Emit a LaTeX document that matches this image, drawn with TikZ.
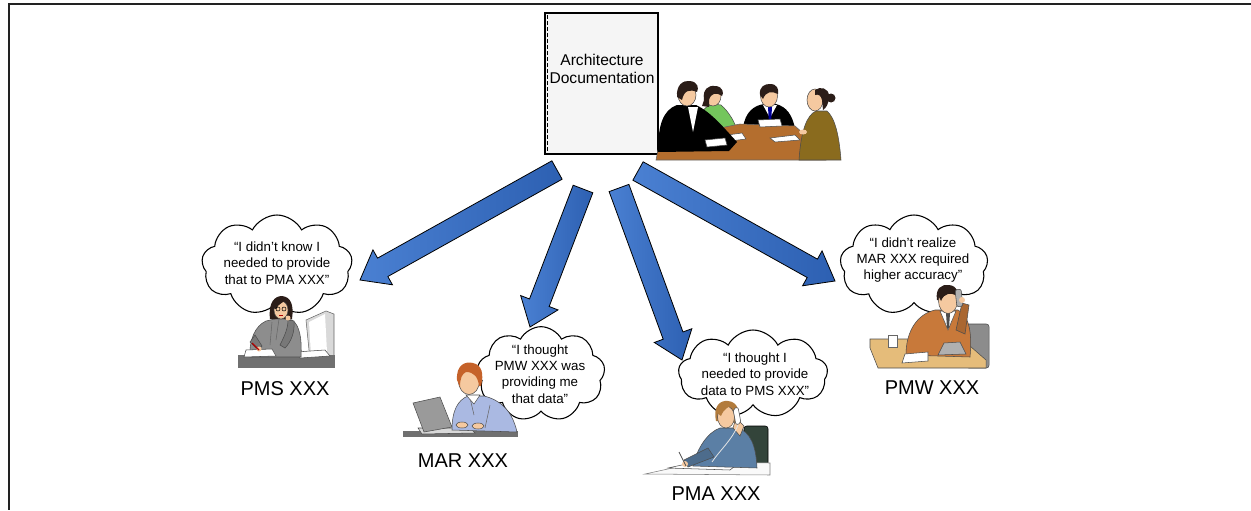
\documentclass[tikz,border=0pt]{standalone}
\usepackage{fontspec}
\setmainfont{Liberation Sans}
\usetikzlibrary{calc,shapes.symbols}

\definecolor{framecol}{HTML}{222222}
\definecolor{docfill}{HTML}{F5F5F5}
\definecolor{arrowA}{HTML}{4A80D2}
\definecolor{arrowB}{HTML}{2D60B2}
\definecolor{skin}{HTML}{F5C9A0}
\definecolor{hairdark}{HTML}{2B1D18}
\definecolor{jacketgray}{HTML}{8D8D8D}
\definecolor{deskgray}{HTML}{707070}
\definecolor{lightgrey}{HTML}{D9D9D9}
\definecolor{laptopgray}{HTML}{9A9A9A}
\definecolor{shirtblue}{HTML}{AAB9E2}
\definecolor{hairorange}{HTML}{C5622A}
\definecolor{chairgreen}{HTML}{33443A}
\definecolor{jacketblue}{HTML}{5B7FA5}
\definecolor{hairbrown}{HTML}{B27B3C}
\definecolor{chairgray}{HTML}{8C8C8C}
\definecolor{desktan}{HTML}{E5BC7A}
\definecolor{sweater}{HTML}{C8793A}
\definecolor{phonegray}{HTML}{B0B0B0}
\definecolor{shirtgreen}{HTML}{74C65C}
\definecolor{olive}{HTML}{8A6B1E}
\definecolor{tablebrown}{HTML}{B46E2E}

\tikzset{
  docbox/.style={draw=black, line width=0.8pt, fill=docfill, minimum width=84.75pt,
    minimum height=105.75pt, inner sep=0pt},
  doctext/.style={align=center, font=\fontsize{11.7}{13.2}\selectfont, inner sep=0pt},
  thought/.style={cloud, cloud puffs=9, cloud puff arc=125, aspect=1.5, draw=black,
    line width=0.8pt, fill=white, inner sep=0pt},
  thoughttext/.style={align=center, font=\fontsize{10}{12.2}\selectfont, inner sep=0pt},
  rolelabel/.style={font=\fontsize{15}{18}\selectfont, inner sep=0pt},
  blockarrow/.style={draw=black, line width=0.6pt, left color=arrowA, right color=arrowB},
  outline/.style={draw=black!70, line width=0.4pt},
}

% block arrow from a tail coordinate (#1) to a tip coordinate (#2)
\newcommand\drawblockarrow[2]{%
  \coordinate (neck) at ($(#2)!19.5pt!(#1)$);
  \path[blockarrow] ($(#1)!7.9pt!90:(#2)$) -- ($(neck)!7.9pt!90:(#2)$)
    -- ($(neck)!15pt!90:(#2)$) -- (#2) -- ($(neck)!15pt!-90:(#2)$)
    -- ($(neck)!7.9pt!-90:(#2)$) -- ($(#1)!7.9pt!-90:(#2)$) -- cycle;
}

\begin{document}
\begin{tikzpicture}[x=0.75pt,y=-0.75pt]
\useasboundingbox (0,0) rectangle (1251,510);

% open frame: top and left edges
\draw[framecol, line width=1.5pt] (1251,4) -- (9,4) -- (9,510);

% architecture document
\node[docbox] (doc) at (601.5,83.5) {};
\draw[line width=0.6pt, dash pattern=on 3pt off 1.5pt]
  ([xshift=2.5pt,yshift=-2pt]doc.north west) -- ([xshift=2.5pt,yshift=2pt]doc.south west);
\node[doctext] (doctitle) at (602,69) {Architecture\\Documentation};

% meeting group beside the document
\begin{scope}
  % woman in green (behind table)
  \filldraw[fill=shirtgreen, outline] (695,137) .. controls (696,118) and (702,107) .. (713,104)
    -- (721,105) .. controls (729,112) and (735,122) .. (738,133) -- cycle;
  \filldraw[fill=skin, outline] (713,96) ellipse [x radius=8, y radius=10];
  \fill[hairdark] (704,100) .. controls (702,88) and (710,85) .. (716,86)
    .. controls (723,87) and (724,93) .. (722,96) .. controls (716,92) and (711,93) .. (709,100)
    -- (709,107) -- (702,106) -- cycle;
  % man in the middle (behind table)
  \fill[black] (743,128) .. controls (745,112) and (754,105) .. (765,104) -- (776,104)
    .. controls (787,107) and (792,115) .. (795,128) -- cycle;
  \fill[white] (763,105) -- (777,105) -- (770,118) -- cycle;
  \fill[blue!60!black] (768,107) -- (772,107) -- (771,124) -- (769,124) -- cycle;
  \filldraw[fill=skin, outline] (769,96) ellipse [x radius=8.5, y radius=11];
  \fill[hairdark] (760,95) .. controls (759,86) and (765,84) .. (770,84)
    .. controls (777,84) and (779,89) .. (778,94) .. controls (772,91) and (766,91) .. (763,99) -- cycle;
  % table
  \filldraw[fill=tablebrown, draw=black!60, line width=0.4pt] (656,160) -- (658,150) -- (700,132)
    -- (740,124) -- (795,126) -- (822,150) -- (826,160) -- cycle;
  % papers
  \fill[white, outline] (720,136) -- (742,133) -- (746,139) -- (722,142) -- cycle;
  \fill[white, outline] (758,120) -- (780,119) -- (782,126) -- (760,127) -- cycle;
  \fill[white, outline] (770,138) -- (795,135) -- (800,140) -- (775,142) -- cycle;
  % man in front at left
  \fill[black] (658,152) .. controls (658,125) and (663,110) .. (677,105) -- (696,105)
    .. controls (711,112) and (724,128) .. (737,142) -- (729,151) -- cycle;
  \fill[white] (688,107) -- (698,107) -- (693,132) -- cycle;
  \fill[white, outline] (705,140) -- (725,138) -- (727,145) -- (707,147) -- cycle;
  \filldraw[fill=skin, outline] (687,95) ellipse [x radius=9, y radius=11];
  \fill[hairdark] (677,97) .. controls (676,85) and (683,80) .. (690,81)
    .. controls (698,82) and (699,88) .. (697,92) .. controls (690,89) and (684,90) .. (682,100) -- cycle;
  % woman in front at right
  \filldraw[fill=olive, outline] (799,160) .. controls (801,130) and (807,115) .. (816,111)
    -- (827,111) .. controls (835,118) and (839,135) .. (841,160) -- cycle;
  \filldraw[fill=skin, outline] (815,100) ellipse [x radius=8, y radius=11];
  \fill[hairdark] (815,90) .. controls (820,86) and (829,88) .. (829,96)
    .. controls (829,104) and (826,108) .. (823,110) -- (822,100) .. controls (821,95) and (818,94) .. (815,95) -- cycle;
  \fill[hairdark] (831,98) circle [radius=4.5];
  \fill[skin] (803,132) ellipse [x radius=4, y radius=2.5];
\end{scope}

% thought clouds
\node[thought, minimum width=113pt, minimum height=75pt] (c1) at (277,265) {};
\node[thought, minimum width=96pt, minimum height=71pt] (c2) at (541,374) {};
\node[thought, minimum width=112pt, minimum height=66pt] (c3) at (753,374) {};
\node[thought, minimum width=111pt, minimum height=75pt] (c4) at (914,265) {};

\node[thoughttext] (t1) at (277,263) {“I didn’t know I\\needed to provide\\that to PMA XXX”};
\node[thoughttext] (t2) at (540,374) {“I thought\\PMW XXX was\\providing me\\that data”};
\node[thoughttext] (t3) at (755,374) {“I thought I\\needed to provide\\data to PMS XXX"};
\node[thoughttext] (t4) at (913,260) {“I didn’t realize\\MAR XXX required\\higher accuracy”};

% arrows from the document to each team
\coordinate (ta1) at (557,170); \coordinate (tp1) at (360,280);
\coordinate (ta2) at (583,189); \coordinate (tp2) at (530,327);
\coordinate (ta3) at (619,188); \coordinate (tp3) at (682,360);
\coordinate (ta4) at (638,171); \coordinate (tp4) at (835,281);
\drawblockarrow{ta1}{tp1}
\drawblockarrow{ta2}{tp2}
\drawblockarrow{ta3}{tp3}
\drawblockarrow{ta4}{tp4}

% PMS: woman at a desk with monitor
\begin{scope}
  \filldraw[fill=lightgrey, draw=black!60, line width=0.4pt] (306,320) -- (326,311) -- (334,314)
    -- (334,357) -- (310,360) -- cycle;
  \fill[white] (309,322) -- (325,314) -- (327,352) -- (311,355) -- cycle;
  \fill[deskgray] (238,355) rectangle (335,368);
  \fill[white, outline] (296,352) -- (325,350) -- (330,356) -- (300,358) -- cycle;
  \filldraw[fill=jacketgray, outline] (250,357) .. controls (249,340) and (255,326) .. (266,321)
    -- (279,318) -- (292,320) .. controls (300,325) and (302,340) .. (301,357) -- cycle;
  \draw[black!60, line width=0.4pt] (279,319) -- (276,340) (272,322) -- (270,345);
  \filldraw[fill=jacketgray!85!black, outline] (280,345) .. controls (285,335) and (288,328) .. (288,320)
    -- (294,321) .. controls (295,332) and (291,342) .. (285,348) -- cycle;
  \fill[hairdark] (270,319) .. controls (268,302) and (275,296) .. (282,296)
    .. controls (291,297) and (294,305) .. (292,319) -- cycle;
  \filldraw[fill=skin, outline] (281,310) ellipse [x radius=7, y radius=9];
  \fill[hairdark] (273,308) .. controls (273,300) and (280,297) .. (287,299)
    .. controls (283,303) and (279,303) .. (276,309) -- cycle;
  \draw[black, line width=0.4pt] (278,309) circle [radius=2] (284,309) circle [radius=2];
  \fill[red!70!black] (279,315) rectangle (283,316);
  \fill[skin] (288,318) circle [radius=2.5];
  \fill[white, outline] (246,350) -- (272,349) -- (276,356) -- (244,357) -- cycle;
  \filldraw[fill=jacketgray!85!black, outline] (255,335) -- (262,346) -- (258,350) -- (250,342) -- cycle;
  \fill[skin] (259,349) circle [radius=2.5];
  \draw[red!70!black, line width=0.8pt] (252,343) -- (259,350);
\end{scope}

% MAR: man at a laptop
\begin{scope}
  \fill[deskgray] (403,431) rectangle (518,437);
  \filldraw[fill=lightgrey, outline] (418,428) -- (470,428) -- (475,433) -- (422,434) -- cycle;
  \filldraw[fill=laptopgray, outline] (413,403) -- (440,397) -- (452,427) -- (424,432) -- cycle;
  \filldraw[fill=shirtblue, outline] (452,430) .. controls (452,410) and (458,400) .. (468,396)
    -- (484,396) .. controls (500,400) and (512,410) .. (517,432) -- cycle;
  \draw[black!60, line width=0.4pt] (470,398) -- (474,415) (490,405) -- (485,428);
  \fill[white, outline] (466,395) -- (474,404) -- (480,395) -- cycle;
  \fill[skin, outline] (462,425) ellipse [x radius=6, y radius=3];
  \fill[skin, outline] (478,426) ellipse [x radius=6, y radius=3];
  \filldraw[fill=skin, outline] (469,381) ellipse [x radius=10.5, y radius=13.5];
  \fill[hairorange] (457,380) .. controls (456,365) and (465,361) .. (473,363)
    .. controls (482,365) and (484,374) .. (481,386) -- (479,386) .. controls (478,377) and (474,372) .. (466,372)
    .. controls (462,374) and (460,378) .. (460,387) -- cycle;
\end{scope}

% PMA: woman on the phone, writing
\begin{scope}
  \filldraw[fill=chairgreen, draw=black, line width=0.4pt, rounded corners=2pt] (744,426) rectangle (768,471);
  \filldraw[fill=white!95!gray, draw=black!50, line width=0.4pt] (645,474) -- (700,462) -- (770,463)
    -- (770,475) -- cycle;
  \filldraw[fill=white, outline] (668,468) -- (705,460) -- (740,462) -- (730,470) -- cycle;
  \filldraw[fill=jacketblue, outline] (693,466) .. controls (697,448) and (708,432) .. (720,428)
    -- (738,428) .. controls (750,432) and (756,445) .. (757,468) -- cycle;
  \filldraw[fill=jacketblue!85!black, outline] (708,448) -- (684,460) -- (688,467) -- (714,457) -- cycle;
  \fill[skin] (685,464) circle [radius=3];
  \draw[black!70, line width=0.6pt] (679,452) -- (686,466);
  \fill[hairbrown] (716,421) .. controls (713,406) and (720,400) .. (728,401)
    .. controls (738,402) and (740,411) .. (738,423) -- cycle;
  \filldraw[fill=skin, outline] (726,417) ellipse [x radius=8.5, y radius=11];
  \fill[hairbrown] (717,413) .. controls (718,403) and (726,401) .. (734,404)
    .. controls (729,407) and (724,408) .. (721,416) -- cycle;
  \filldraw[fill=skin, outline] (736,418) -- (744,426) -- (740,436) -- (733,428) -- cycle;
  \filldraw[fill=white, outline, rounded corners=1.5pt] (733,409) -- (738,407) -- (741,423) -- (736,425) -- cycle;
  \draw[white!80!gray, line width=0.6pt] (738,425) .. controls (732,440) and (720,450) .. (712,462);
\end{scope}

% PMW: man on the phone at a desk
\begin{scope}
  \filldraw[fill=chairgray, draw=black!70, line width=0.4pt, rounded corners=2pt] (966,324) rectangle (989,368);
  \filldraw[fill=desktan, outline] (870,339) -- (962,339) -- (986,360) -- (986,368) -- (878,368)
    -- (870,348) -- cycle;
  \filldraw[fill=sweater, outline] (906,355) .. controls (906,330) and (918,314) .. (935,310)
    -- (958,310) .. controls (970,316) and (972,335) .. (970,357) -- cycle;
  \fill[white, outline] (940,311) -- (948,330) -- (956,311) -- cycle;
  \fill[black!70] (946,313) -- (950,313) -- (949,328) -- (947,328) -- cycle;
  \filldraw[fill=sweater!85!black, outline] (956,330) -- (962,303) -- (969,305) -- (965,334) -- cycle;
  \fill[hairdark] (937,300) .. controls (935,288) and (942,284) .. (949,285)
    .. controls (957,286) and (960,292) .. (958,302) -- cycle;
  \filldraw[fill=skin, outline] (948,301) ellipse [x radius=9.5, y radius=12.5];
  \fill[hairdark] (939,297) .. controls (939,289) and (945,286) .. (951,287)
    .. controls (956,288) and (958,292) .. (957,296) .. controls (951,292) and (944,293) .. (941,301) -- cycle;
  \filldraw[fill=phonegray, outline, rounded corners=1.5pt] (955,290) -- (961,289) -- (963,306) -- (957,307) -- cycle;
  \fill[skin] (962,300) circle [radius=3];
  \filldraw[fill=phonegray, outline] (938,355) -- (944,343) -- (960,342) -- (966,354) -- cycle;
  \filldraw[fill=white, draw=black!60, line width=0.4pt] (888,335) rectangle (897,347);
  \filldraw[fill=white, outline] (905,354) -- (928,352) -- (928,361) -- (902,363) -- cycle;
\end{scope}

% team names
\node[rolelabel] (pms) at (285,389) {PMS XXX};
\node[rolelabel] (mar) at (463,461) {MAR XXX};
\node[rolelabel] (pma) at (716,494) {PMA XXX};
\node[rolelabel] (pmw) at (932,388) {PMW XXX};

\end{tikzpicture}
\end{document}
